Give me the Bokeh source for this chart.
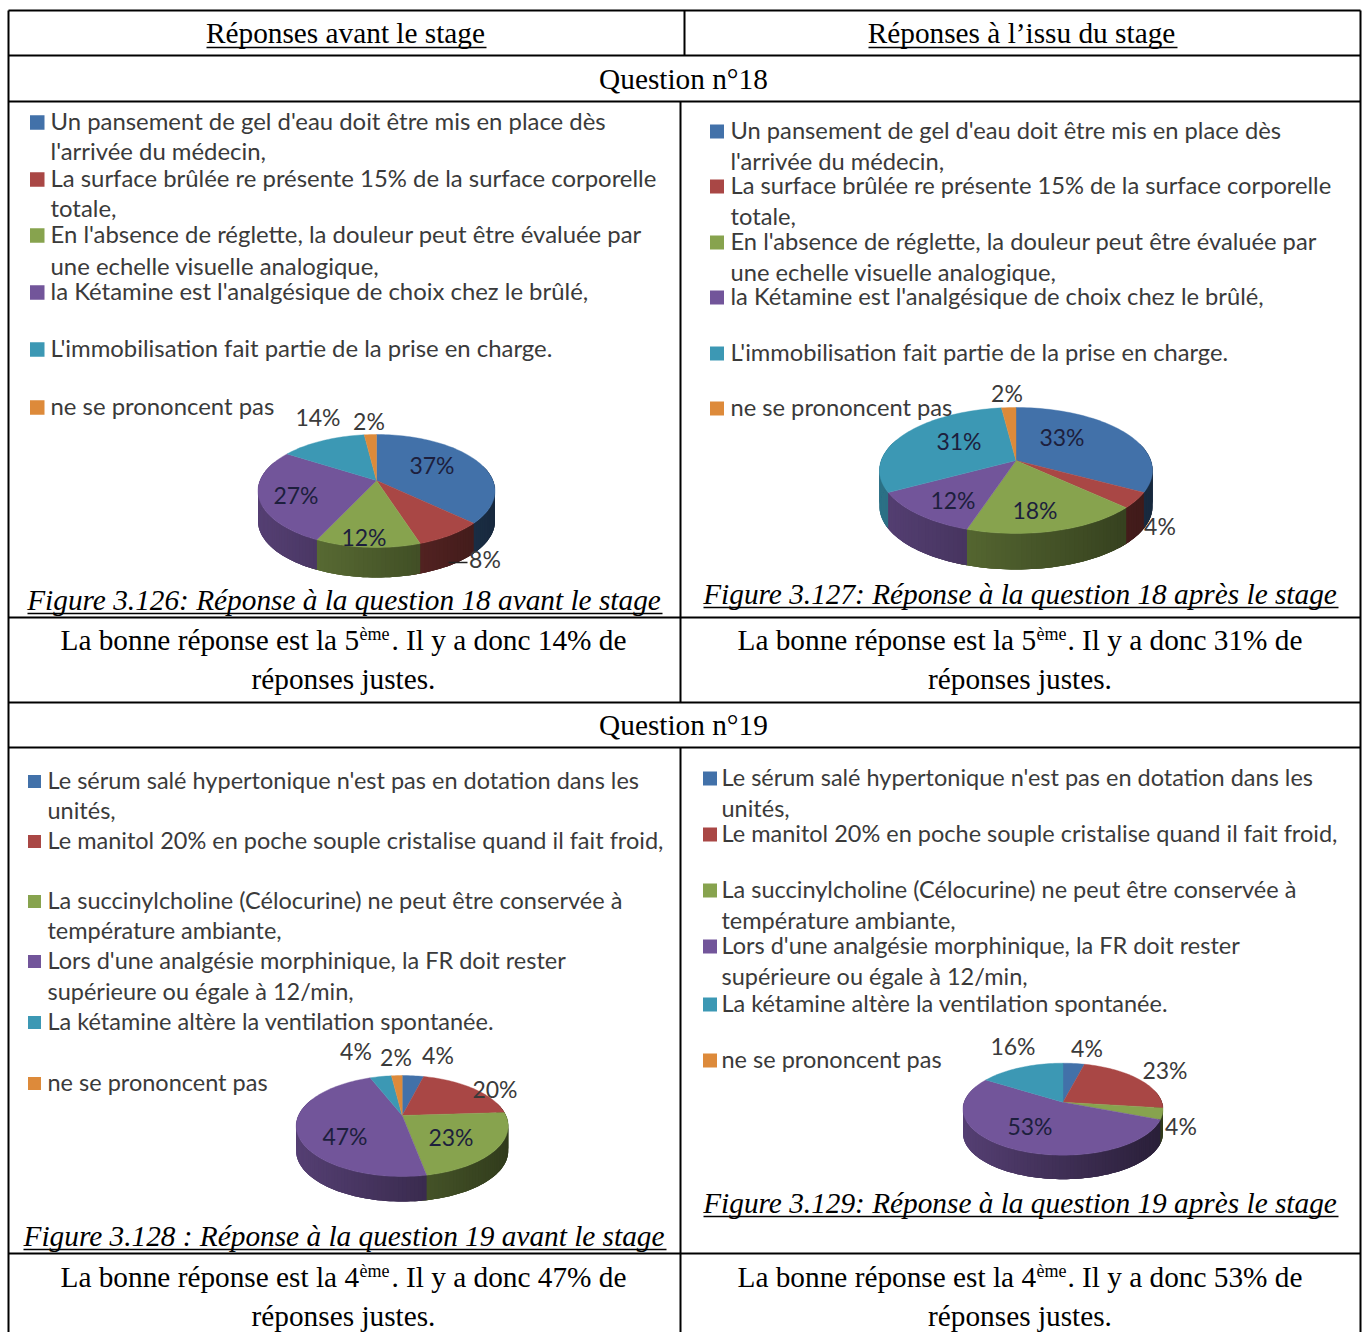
import numpy as np
from bokeh.plotting import figure
from bokeh.core.properties import value
from bokeh.embed import file_html
from bokeh.resources import INLINE

# ---------- chart values ----------
pie_18_avant = [37, 8, 12, 27, 14, 2]
pie_18_apres = [33, 4, 18, 12, 31, 2]
pie_19_avant = [4, 20, 23, 47, 4, 2]
pie_19_apres = [4, 23, 4, 53, 16, 0]

legend_18 = [
    "Un pansement de gel d'eau doit être mis en place dès",
    "l'arrivée du médecin,",
    "La surface brûlée re présente 15% de la surface corporelle",
    "totale,",
    "En l'absence de réglette, la douleur peut être évaluée par",
    "une echelle visuelle  analogique,",
    "la Kétamine est l'analgésique de choix chez le brûlé,",
    "L'immobilisation fait partie de la prise en charge.",
    "ne se prononcent pas",
]
legend_19 = [
    "Le sérum salé hypertonique n'est pas en dotation dans les",
    "unités,",
    "Le manitol 20% en poche souple cristalise quand il fait froid,",
    "La succinylcholine (Célocurine) ne peut être conservée à",
    "température ambiante,",
    "Lors d'une analgésie morphinique, la FR doit rester",
    "supérieure ou égale à 12/min,",
    "La kétamine altère la ventilation spontanée.",
    "ne se prononcent pas",
]
headers = ["Réponses avant le stage", "Réponses à l’issu du stage"]
questions = ["Question n°18", "Question n°19"]
captions = [
    "Figure 3.126: Réponse à la question 18 avant le stage",
    "Figure 3.127: Réponse à la question 18 après le stage",
    "Figure 3.128 : Réponse à la question 19 avant le stage",
    "Figure 3.129: Réponse à la question 19 après le stage",
]
answers = [("5", 14), ("5", 31), ("4", 47), ("4", 53)]

# ---------- styles ----------
COLORS = ["#4271a9", "#a94745", "#87a34e", "#72559a", "#3c98b4", "#dd8a3a"]
SERIF = value("Liberation Serif")
SANS = value("Lato")
INK = "#3a3a3a"

p = figure(width=1365, height=1332, x_range=(0, 1365), y_range=(1332, 0),
           output_backend="svg", toolbar_location=None, min_border=0,
           outline_line_color=None, background_fill_color="white")
p.axis.visible = False
p.grid.visible = False


def rgb(c):
    return np.array([int(c[i:i + 2], 16) for i in (1, 3, 5)], float)


def hexc(a):
    return "#%02x%02x%02x" % tuple(int(max(0, min(255, v))) for v in a)


def rim(cx, cy, A, B, k, t):
    d = 1 + k * np.cos(t)
    return cx + A * np.sin(t) / d, cy - B * np.cos(t) / d


def pie3d(vals, cx, cy, rx, top, front, depth):
    k = (front - top) / (front + top)
    B = top * (1 + k)
    A = rx * np.sqrt(1 - k * k)
    xs, ys, cols = [], [], []
    fx, fy, fc = [], [], []
    start = 0.0
    step = 2 * np.pi / 200
    for v, c in zip(vals, COLORS):
        if v <= 0:
            continue
        end = start + v / sum(vals) * 2 * np.pi
        ts = np.linspace(start, end, max(3, v * 2) + 1)
        x, y = rim(cx, cy, A, B, k, ts)
        base = rgb(c)
        t = start
        while t < end:
            if np.cos(t) < 0.3:
                seg = np.linspace(t, t + 3 * step, 4)
                sx, sy = rim(cx, cy, A, B, k, seg)
                s = (sx[0] - cx) / rx
                shade = 0.56 - 0.19 * s
                xs.append(list(sx) + list(sx[::-1]))
                ys.append(list(sy) + list(sy[::-1] + depth))
                cols.append(hexc(base * shade))
            t += step
        fx.append([cx] + list(x))
        fy.append([cy] + list(y))
        fc.append(c)
        start = end
    p.patches(xs, ys, fill_color=cols, line_color=None)
    p.patches(fx, fy, fill_color=fc, line_color=fc, line_width=0.4)


pie3d(pie_18_avant, 376, 480, 118.5, 46, 67, 30)
pie3d(pie_18_apres, 1015.5, 460, 136.5, 53, 73, 36)
pie3d(pie_19_avant, 401.7, 1115, 106, 40, 61, 25)
pie3d(pie_19_apres, 1062.5, 1101.7, 100, 39, 53, 24)

# ---------- pie labels ----------
def pie_labels(vals, pos, inside):
    for v, (x, y), ins in zip(vals, pos, inside):
        if v <= 0:
            continue
        p.text([x - 0.5], [y - 2], text=[f"{v}%"], text_align="center", text_baseline="middle",
               text_font=SANS, text_font_size="23px",
               text_color="#1d1f3d" if ins else INK)


pie_labels(pie_18_avant,
           [(432, 466), (485, 560), (364, 538), (296, 496), (318, 418), (369, 422)],
           [1, 0, 1, 1, 0, 0])
pie_labels(pie_18_apres,
           [(1062, 438), (1160, 527), (1035, 511), (953, 501), (959, 442), (1007, 394)],
           [1, 0, 1, 1, 1, 0])
pie_labels(pie_19_avant,
           [(438, 1056), (495, 1090), (451, 1138), (345, 1137), (356, 1052), (396, 1058)],
           [0, 0, 1, 1, 0, 0])
pie_labels(pie_19_apres,
           [(1087, 1049), (1165, 1071), (1181, 1127), (1030, 1127), (1013, 1047), (0, 0)],
           [0, 0, 0, 1, 0, 0])
p.line([448, 467], [562, 562], line_color="#222222", line_width=1.5)

# ---------- legends ----------
def legend(lines, tx, sx, ss, ys, swatch_idx, size):
    for s, y in zip(lines, ys):
        p.text([tx - 1], [y - 2], text=[s], text_baseline="middle", text_font=SANS,
               text_font_size=size, text_color=INK)
    for c, i in zip(COLORS, swatch_idx):
        y = ys[i]
        p.quad(left=[sx], right=[sx + ss], top=[y - ss / 2], bottom=[y + ss / 2],
               fill_color=c, line_color=None)


legend(legend_18, 51, 29.5, 14.5, [122, 152, 179, 209, 235, 267, 292, 349, 407],
       [0, 2, 4, 6, 7, 8], "23.9px")
legend(legend_18, 731, 709.5, 14, [131, 162, 186, 217, 242, 273, 297, 353, 408],
       [0, 2, 4, 6, 7, 8], "23.7px")
legend(legend_19, 48, 27.5, 13, [781, 811, 841, 901, 931, 961, 992, 1022, 1083],
       [0, 2, 3, 5, 7, 8], "23.5px")
legend(legend_19, 722, 702.5, 14, [778, 809, 834, 890, 921, 946, 977, 1004, 1060],
       [0, 2, 3, 5, 7, 8], "23.5px")

# ---------- table grid ----------
hy = [10, 55, 101, 617, 702, 747, 1253]
p.segment([8] * len(hy), hy, [1360] * len(hy), hy, line_color="black", line_width=2)
p.segment([8, 1360, 684, 680, 680], [10, 10, 10, 101, 747],
          [8, 1360, 684, 680, 680], [1332, 1332, 55, 702, 1332],
          line_color="black", line_width=2)


def serif(x, y, s, size="29.3px", align="center", style="normal"):
    # y is the text baseline; middle anchoring sits about 11px above it
    p.text([x - 1], [y - 11], text=[s], text_align=align, text_baseline="middle",
           text_font=SERIF, text_font_size=size, text_font_style=style, text_color="black")


def underline(x0, x1, y):
    p.line([x0, x1], [y, y], line_color="black", line_width=1.6)


serif(346, 43, headers[0])
underline(206, 486, 47)
serif(1022, 43, headers[1])
underline(868, 1177, 47)
serif(684, 89, questions[0])
serif(684, 735, questions[1])

for s, (x0, x1, y) in zip(captions, [(27, 662, 610), (703, 1338, 604),
                                     (23, 666, 1246), (703, 1338, 1213)]):
    serif((x0 + x1) / 2, y, s, style="italic")
    underline(x0, x1, y + 3)

for (nth, pct), (x0, x1, y) in zip(answers, [(61, 627, 650), (738, 1303, 650),
                                             (61, 627, 1287), (738, 1303, 1287)]):
    a = f"La bonne réponse est la {nth}"
    serif(x0, y, a, align="left")
    serif(x0 + 299, y - 6, "ème", size="18px", align="left")
    serif(x1, y, f". Il y a donc {pct}% de", align="right")
    serif((x0 + x1) / 2, y + 39, "réponses justes.")

open("out.html", "w").write(file_html(p, INLINE))
